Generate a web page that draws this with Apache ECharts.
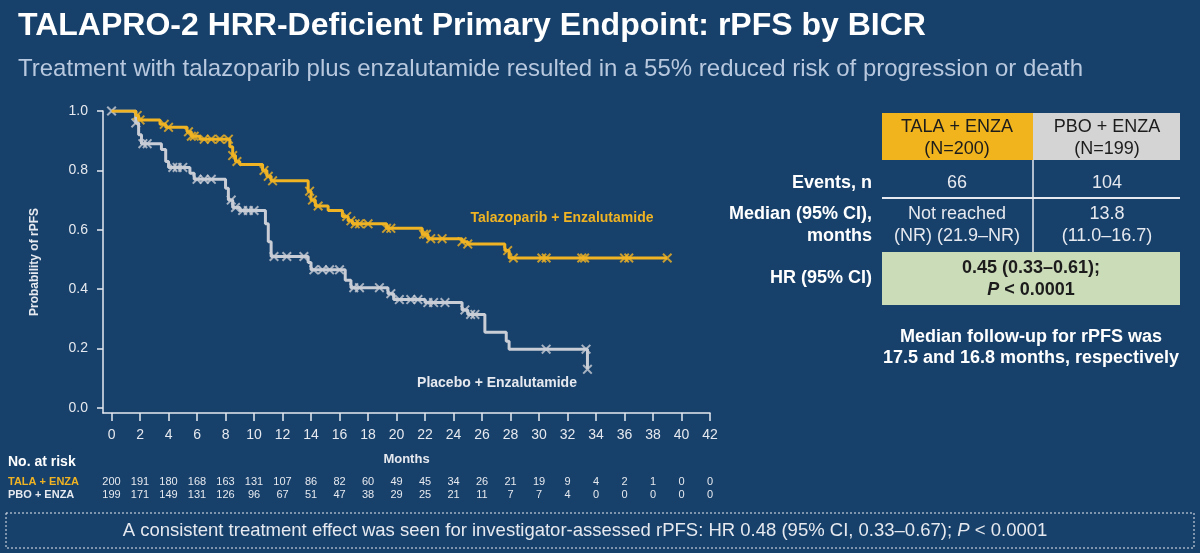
<!DOCTYPE html>
<html>
<head>
<meta charset="utf-8">
<title>TALAPRO-2 rPFS</title>
<script src="https://cdn.jsdelivr.net/npm/echarts@6/dist/echarts.min.js"></script>
<style>
html, body { margin: 0; padding: 0; background: #17406a; }
#chart { width: 1200px; height: 553px; }
</style>
</head>
<body>
<div id="chart"></div>
<script>
// x axis ticks (months) and y axis ticks
var monthTicks = [0, 2, 4, 6, 8, 10, 12, 14, 16, 18, 20, 22, 24, 26, 28, 30, 32, 34, 36, 38, 40, 42];
var probTicks = [0, 0.2, 0.4, 0.6, 0.8, 1.0];

// number at risk, one per month tick
var riskTala = [200, 191, 180, 168, 163, 131, 107, 86, 82, 60, 49, 45, 34, 26, 21, 19, 9, 4, 2, 1, 0, 0];
var riskPbo = [199, 171, 149, 131, 126, 96, 67, 51, 47, 38, 29, 25, 21, 11, 7, 7, 4, 0, 0, 0, 0, 0];

// KM steps [month, probability]
var talaSteps = [
  [0, 1.0], [1.7, 0.985], [1.9, 0.97], [3.4, 0.955], [3.8, 0.945], [5.3, 0.93], [5.6, 0.915],
  [6.2, 0.905], [8.3, 0.88], [8.5, 0.85], [8.7, 0.83], [9.0, 0.82], [10.6, 0.80], [10.9, 0.78],
  [11.2, 0.765], [13.8, 0.73], [14.0, 0.70], [14.3, 0.68], [15.2, 0.665], [16.2, 0.645],
  [16.6, 0.63], [16.9, 0.62], [19.3, 0.605], [21.8, 0.585], [22.2, 0.57], [24.6, 0.56],
  [25.0, 0.552], [27.6, 0.53], [27.9, 0.505], [39.0, 0.505]
];
var pboSteps = [
  [0, 1.0], [1.7, 0.96], [1.9, 0.92], [2.1, 0.89], [3.5, 0.87], [3.8, 0.83], [4.0, 0.81],
  [5.5, 0.79], [5.8, 0.77], [8.0, 0.74], [8.2, 0.70], [8.5, 0.675], [9.0, 0.665], [10.8, 0.62],
  [11.0, 0.56], [11.2, 0.51], [13.8, 0.49], [14.0, 0.465], [16.4, 0.43], [16.8, 0.405],
  [19.4, 0.385], [19.8, 0.365], [22.0, 0.355], [24.6, 0.33], [25.0, 0.315], [26.2, 0.255],
  [27.7, 0.225], [27.9, 0.198], [33.4, 0.13]
];

// censoring times (months)
var talaCensor = [1.8, 2.0, 3.7, 4.0, 5.4, 5.6, 5.8, 6.5, 7.0, 7.6, 8.2, 8.5, 8.8, 10.7, 11.0, 11.3,
  13.9, 14.1, 14.5, 16.5, 16.8, 17.1, 17.4, 18.0, 19.3, 19.6, 21.9, 22.1, 22.4, 23.2, 24.6, 25.0,
  27.8, 28.2, 30.2, 30.5, 33.0, 33.2, 36.0, 36.3, 39.0];
var pboCensor = [0, 1.7, 2.2, 2.5, 4.3, 4.6, 5.0, 6.0, 6.5, 7.0, 8.4, 8.7, 9.2, 9.6, 10.0, 11.4,
  12.3, 13.5, 14.2, 14.8, 15.3, 16.0, 17.0, 17.4, 18.8, 19.6, 20.2, 21.0, 21.5, 22.2, 22.6, 23.4,
  24.8, 25.2, 25.5, 30.5, 33.3, 33.4];

var gold = '#f0b323';
var grey = '#c9cdd6';
var txt = '#e6e9ef';
var font = '"Liberation Sans", Arial, sans-serif';
var xMark = 'path://M0,1.4L1.4,0L5,3.6L8.6,0L10,1.4L6.4,5L10,8.6L8.6,10L5,6.4L1.4,10L0,8.6L3.6,5Z';

function survAt(steps, t) {
  var v = steps[0][1];
  for (var i = 0; i < steps.length; i++) {
    if (steps[i][0] <= t) v = steps[i][1];
  }
  return v;
}
function marks(steps, times) {
  return times.map(function (t) { return [t, survAt(steps, t)]; });
}

var chart = echarts.init(document.getElementById('chart'));

function riskAxis(arr, offset, color) {
  return {
    type: 'value', min: -0.6, max: 42, position: 'bottom', offset: offset,
    axisLine: { show: false, onZero: false }, axisTick: { show: false }, splitLine: { show: false },
    axisLabel: {
      customValues: monthTicks, margin: 0, color: color, fontSize: 11, fontFamily: font,
      formatter: function (v) { return String(arr[Math.round(v / 2)]); }
    }
  };
}

function cell(x, y, text, color, size, bold, align) {
  return {
    type: 'text', x: x, y: y,
    style: {
      text: text, fill: color, font: (bold ? 'bold ' : '') + size + 'px ' + font,
      align: align || 'center', verticalAlign: 'middle',
      rich: { i: { font: 'italic ' + (bold ? 'bold ' : '') + size + 'px ' + font, fill: color } }
    }
  };
}

var option = {
  backgroundColor: '#17406a',
  animation: false,
  textStyle: { fontFamily: font },
  grid: { left: 103, top: 111, width: 607, height: 302 },
  xAxis: [{
    type: 'value', min: -0.6, max: 42,
    name: 'Months', nameLocation: 'middle', nameGap: 40,
    nameTextStyle: { color: txt, fontSize: 13, fontWeight: 'bold', fontFamily: font },
    axisLine: { onZero: false, lineStyle: { color: txt, width: 1.5 } },
    axisTick: { customValues: monthTicks, length: 8, lineStyle: { color: txt, width: 1.5 } },
    axisLabel: { customValues: monthTicks, color: txt, fontSize: 14, margin: 15, fontFamily: font },
    splitLine: { show: false }
  },
    riskAxis(riskTala, 63, txt),
    riskAxis(riskPbo, 76, txt)
  ],
  yAxis: {
    type: 'value', min: -0.017, max: 1,
    name: 'Probability of rPFS', nameLocation: 'middle', nameGap: 62, nameRotate: 90,
    nameTextStyle: { color: txt, fontSize: 12, fontWeight: 'bold', fontFamily: font },
    axisLine: { show: true, onZero: false, lineStyle: { color: txt, width: 1.5 } },
    axisTick: { show: true, customValues: probTicks, length: 6, lineStyle: { color: txt, width: 1.5 } },
    axisLabel: {
      customValues: probTicks, color: txt, fontSize: 14, margin: 15, fontFamily: font,
      formatter: function (v) { return v.toFixed(1); }
    },
    splitLine: { show: false }
  },
  series: [
    { type: 'line', step: 'end', data: pboSteps, symbol: 'none', lineStyle: { color: grey, width: 3 } },
    { type: 'scatter', data: marks(pboSteps, pboCensor), symbol: xMark, symbolSize: 10, itemStyle: { color: grey } },
    { type: 'line', step: 'end', data: talaSteps, symbol: 'none', lineStyle: { color: gold, width: 3 } },
    { type: 'scatter', data: marks(talaSteps, talaCensor), symbol: xMark, symbolSize: 10, itemStyle: { color: gold } }
  ],
  graphic: [
    { type: 'text', left: 18, top: 10, style: { text: 'TALAPRO-2 HRR-Deficient Primary Endpoint: rPFS by BICR', fill: '#ffffff', font: 'bold 32px ' + font } },
    { type: 'text', left: 18, top: 57, style: { text: 'Treatment with talazoparib plus enzalutamide resulted in a 55% reduced risk of progression or death', fill: '#b8c8de', font: '24px ' + font } },

    cell(562, 218, 'Talazoparib + Enzalutamide', gold, 14, true),
    cell(497, 383, 'Placebo + Enzalutamide', txt, 14, true),

    cell(8, 462, 'No. at risk', '#ffffff', 14, true, 'left'),
    cell(8, 482, 'TALA + ENZA', gold, 11, true, 'left'),
    cell(8, 495, 'PBO + ENZA', txt, 11, true, 'left'),

    // table
    { type: 'rect', shape: { x: 882, y: 113, width: 151, height: 47 }, style: { fill: '#f1b41d' } },
    { type: 'rect', shape: { x: 1033, y: 113, width: 147, height: 47 }, style: { fill: '#d4d4d4' } },
    cell(957, 127, 'TALA + ENZA', '#1c1c1c', 18, false),
    cell(957, 149, '(N=200)', '#1c1c1c', 18, false),
    cell(1107, 127, 'PBO + ENZA', '#1c1c1c', 18, false),
    cell(1107, 149, '(N=199)', '#1c1c1c', 18, false),
    { type: 'line', shape: { x1: 882, y1: 198, x2: 1180, y2: 198 }, style: { stroke: '#e6e9ef', lineWidth: 2 } },
    { type: 'line', shape: { x1: 1033, y1: 160, x2: 1033, y2: 252 }, style: { stroke: '#e6e9ef', lineWidth: 1.5 } },
    { type: 'rect', shape: { x: 882, y: 252, width: 298, height: 53 }, style: { fill: '#cbdcb8' } },

    cell(872, 183, 'Events, n', '#ffffff', 18, true, 'right'),
    cell(872, 214, 'Median (95% CI),', '#ffffff', 18, true, 'right'),
    cell(872, 236, 'months', '#ffffff', 18, true, 'right'),
    cell(872, 278, 'HR (95% CI)', '#ffffff', 18, true, 'right'),

    cell(957, 183, '66', txt, 18, false),
    cell(1107, 183, '104', txt, 18, false),
    cell(957, 214, 'Not reached', txt, 18, false),
    cell(957, 236, '(NR) (21.9–NR)', txt, 18, false),
    cell(1107, 214, '13.8', txt, 18, false),
    cell(1107, 236, '(11.0–16.7)', txt, 18, false),
    cell(1031, 268, '0.45 (0.33–0.61);', '#1c1c1c', 18, true),
    cell(1031, 290, '{i|P} < 0.0001', '#1c1c1c', 18, true),

    cell(1031, 337, 'Median follow-up for rPFS was', '#ffffff', 18, true),
    cell(1031, 358, '17.5 and 16.8 months, respectively', '#ffffff', 18, true),

    // footnote box
    { type: 'rect', shape: { x: 6, y: 513, width: 1188, height: 35 }, style: { fill: 'none', stroke: '#e6e9ef', lineWidth: 1, lineDash: [2, 2] } },
    cell(585, 531, 'A consistent treatment effect was seen for investigator-assessed rPFS: HR 0.48 (95% CI, 0.33–0.67); {i|P} < 0.0001', txt, 18.5, false)
  ]
};

chart.setOption(option);
</script>
</body>
</html>
